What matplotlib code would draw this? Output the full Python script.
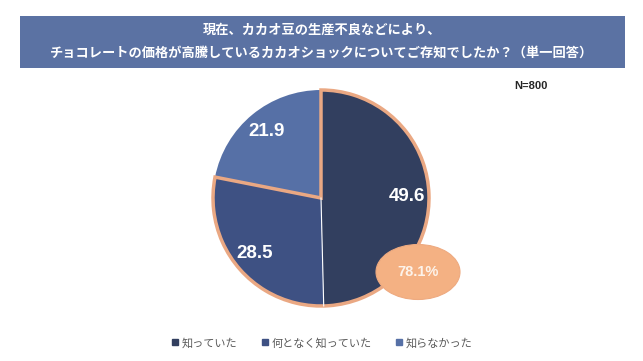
import matplotlib
matplotlib.use('Agg')
import matplotlib.pyplot as plt
import numpy as np
from matplotlib.patches import Wedge, Ellipse, Rectangle
from matplotlib.lines import Line2D

plt.rcParams['font.family'] = ['Noto Sans CJK JP', 'DejaVu Sans']

# data
categories = ['知っていた', '何となく知っていた', '知らなかった']
values = [49.6, 28.5, 21.9]
colors = ['#323f5f', '#3e5183', '#5670a6']
aware_total = '78.1%'
title_lines = ['現在、カカオ豆の生産不良などにより、',
               'チョコレートの価格が高騰しているカカオショックについてご存知でしたか？（単一回答）']
n_label = 'N=800'

W, H = 643, 361
fig = plt.figure(figsize=(W / 100, H / 100), dpi=100)
fig.patch.set_facecolor('white')

# title box
bg = fig.add_axes([0, 0, 1, 1])
bg.set_xlim(0, W); bg.set_ylim(H, 0); bg.axis('off')
bg.add_patch(Rectangle((20, 16), 605, 52, facecolor='#5b72a3', edgecolor='none'))
bg.text(322, 30, title_lines[0], color='white', fontsize=9.5, fontweight='bold',
        ha='center', va='center')
bg.text(322, 53, title_lines[1], color='white', fontsize=9.5, fontweight='bold',
        ha='center', va='center')
bg.text(514, 86, n_label, color='#262626', fontsize=8, fontweight='bold',
        family=['Liberation Sans', 'DejaVu Sans'], ha='left', va='center')

# pie
cx, cy, r = 321, 198, 108
half = 115
ax = fig.add_axes([(cx - half) / W, 1 - (cy + half) / H, 2 * half / W, 2 * half / H])
wedges, texts, autotexts = ax.pie(values, colors=colors, startangle=90, counterclock=False,
                                  radius=r, center=(0, 0), frame=True,
                                  autopct=lambda p: f'{p:.1f}', pctdistance=0.8,
                                  wedgeprops=dict(edgecolor='none'))
ax.set_xlim(-half, half); ax.set_ylim(-half, half); ax.set_aspect('equal'); ax.axis('off')
for t in autotexts:
    t.set_color('white'); t.set_fontsize(13.5); t.set_fontweight('bold')
    t.set_family(['Liberation Sans', 'DejaVu Sans'])

# white divider between first two slices
ang = wedges[0].theta1
ax.plot([0, r * np.cos(np.radians(ang))], [0, r * np.sin(np.radians(ang))],
        color='white', lw=0.8)

# orange outline around "aware" share
aware = values[0] + values[1]
ax.add_patch(Wedge((0, 0), r, 90 - 360 * aware / 100, 450, fill=False,
                   edgecolor='#eaa883', lw=2.5, joinstyle='miter'))

# callout ellipse (overlay on top of the pie)
top = fig.add_axes([0, 0, 1, 1])
top.set_xlim(0, W); top.set_ylim(H, 0); top.axis('off')
top.patch.set_alpha(0)
top.add_patch(Ellipse((418, 272), 84, 55, facecolor='#f4b183', edgecolor='#eeaa80', lw=0.8))
top.text(418, 272, aware_total, color='#fdf3ea', fontsize=10.5, fontweight='bold',
         family=['Liberation Sans', 'DejaVu Sans'], ha='center', va='center')

# legend
handles = [Line2D([], [], marker='s', ls='none', markersize=4, color=c) for c in colors]
fig.legend(handles, categories, loc='center', ncol=3, bbox_to_anchor=(322 / W, 1 - 343 / H),
           frameon=False, fontsize=8, handlelength=0.6, handletextpad=0.3,
           columnspacing=2.2, labelcolor='#595959')

fig.savefig('out.png', dpi=100)
